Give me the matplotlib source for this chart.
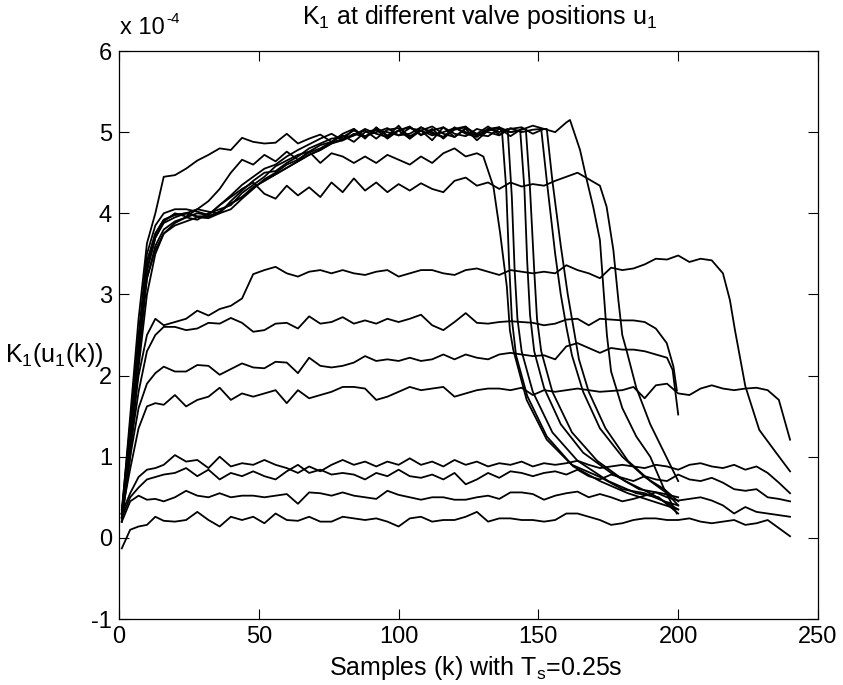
import matplotlib

matplotlib.use("Agg")
import matplotlib.pyplot as plt

plt.rcParams.update({
    "font.family": "Liberation Sans",
    "font.size": 17,
    "axes.unicode_minus": False,
    "mathtext.fontset": "custom",
    "mathtext.rm": "Liberation Sans",
    "mathtext.it": "Liberation Sans:italic",
})

# common sample grid for the slowly varying parts of every run
G = [1, 4, 7, 10, 13, 16, 20, 24, 28, 32, 36, 40, 44, 48, 52, 56, 60, 64, 68,
     72, 76, 80, 84, 88, 92, 96, 100, 104, 108, 112, 116, 120, 124, 128, 132,
     136, 140, 144, 148, 152, 156, 160, 164, 168, 172, 176, 180, 184, 188, 192,
     196, 200, 204, 208, 212, 216, 220, 224, 228, 232, 236, 240]

# ---- low valve positions (run to k=240) ----
L0 = [-0.13, 0.10, 0.14, 0.16, 0.26, 0.21, 0.20, 0.22, 0.32, 0.22, 0.14, 0.26,
      0.22, 0.26, 0.18, 0.30, 0.22, 0.21, 0.26, 0.20, 0.20, 0.26, 0.24, 0.22,
      0.24, 0.20, 0.14, 0.24, 0.26, 0.20, 0.22, 0.22, 0.26, 0.32, 0.20, 0.24,
      0.24, 0.22, 0.22, 0.20, 0.22, 0.30, 0.30, 0.26, 0.22, 0.16, 0.18, 0.22,
      0.24, 0.24, 0.22, 0.22, 0.24, 0.20, 0.18, 0.20, 0.22, 0.16, 0.18, 0.22,
      0.12, 0.02]
L1 = [0.20, 0.45, 0.52, 0.47, 0.48, 0.45, 0.50, 0.58, 0.52, 0.50, 0.55, 0.50,
      0.52, 0.52, 0.50, 0.52, 0.54, 0.42, 0.56, 0.55, 0.52, 0.56, 0.52, 0.50,
      0.48, 0.58, 0.53, 0.50, 0.47, 0.50, 0.50, 0.47, 0.47, 0.50, 0.52, 0.48,
      0.56, 0.56, 0.54, 0.47, 0.52, 0.55, 0.57, 0.50, 0.54, 0.50, 0.45, 0.48,
      0.52, 0.56, 0.50, 0.46, 0.48, 0.50, 0.46, 0.40, 0.30, 0.38, 0.32, 0.30,
      0.28, 0.26]
L2 = [0.25, 0.50, 0.62, 0.72, 0.75, 0.78, 0.80, 0.86, 0.76, 0.84, 0.72, 0.80,
      0.76, 0.82, 0.76, 0.72, 0.82, 0.90, 0.80, 0.84, 0.78, 0.80, 0.78, 0.72,
      0.80, 0.76, 0.84, 0.76, 0.74, 0.78, 0.72, 0.80, 0.66, 0.72, 0.80, 0.74,
      0.82, 0.80, 0.76, 0.80, 0.82, 0.78, 0.84, 0.76, 0.72, 0.78, 0.74, 0.70,
      0.76, 0.72, 0.70, 0.78, 0.72, 0.70, 0.74, 0.68, 0.60, 0.58, 0.60, 0.50,
      0.48, 0.45]
L3 = [0.30, 0.55, 0.75, 0.84, 0.86, 0.90, 1.02, 0.94, 0.96, 0.86, 1.00, 0.88,
      0.92, 0.90, 0.96, 0.90, 0.86, 0.80, 0.88, 0.82, 0.90, 0.96, 0.90, 0.94,
      0.88, 0.94, 0.90, 0.98, 0.90, 0.94, 0.88, 0.96, 0.90, 0.94, 0.88, 0.92,
      0.90, 0.94, 0.88, 0.92, 0.90, 0.92, 0.95, 0.90, 0.86, 0.88, 0.90, 0.88,
      0.86, 0.90, 0.88, 0.84, 0.90, 0.92, 0.88, 0.86, 0.90, 0.84, 0.88, 0.80,
      0.68, 0.55]
M1 = [0.30, 0.85, 1.35, 1.62, 1.66, 1.64, 1.76, 1.62, 1.70, 1.74, 1.85, 1.70,
      1.78, 1.74, 1.78, 1.82, 1.66, 1.82, 1.72, 1.76, 1.80, 1.86, 1.86, 1.84,
      1.70, 1.74, 1.80, 1.86, 1.82, 1.84, 1.86, 1.74, 1.78, 1.82, 1.84, 1.84,
      1.82, 1.85, 1.76, 1.82, 1.80, 1.82, 1.84, 1.82, 1.80, 1.81, 1.82, 1.86,
      1.72, 1.88, 1.90, 1.78, 1.76, 1.84, 1.88, 1.84, 1.82, 1.84, 1.85, 1.82,
      1.70, 1.21]

# ---- middle valve positions ----
M2 = [0.30, 1.00, 1.60, 1.90, 2.03, 2.11, 2.05, 2.05, 2.13, 2.12, 2.01, 2.08,
      2.15, 2.10, 2.09, 2.17, 2.16, 2.03, 2.22, 2.12, 2.10, 2.12, 2.16, 2.24,
      2.18, 2.20, 2.18, 2.22, 2.18, 2.20, 2.26, 2.20, 2.26, 2.22, 2.20, 2.26,
      2.28, 2.26, 2.24, 2.25, 2.20, 2.36, 2.40, 2.34, 2.28, 2.34, 2.32, 2.32,
      2.30, 2.26, 2.22]
M2_TK = [198, 200]
M2_TV = [2.07, 1.52]
M3 = [0.30, 1.10, 1.80, 2.30, 2.50, 2.60, 2.60, 2.56, 2.58, 2.65, 2.64, 2.71,
      2.65, 2.54, 2.56, 2.64, 2.65, 2.58, 2.73, 2.64, 2.66, 2.72, 2.64, 2.68,
      2.64, 2.70, 2.66, 2.70, 2.75, 2.62, 2.56, 2.66, 2.77, 2.65, 2.64, 2.66,
      2.67, 2.66, 2.65, 2.62, 2.64, 2.69, 2.70, 2.62, 2.70, 2.69, 2.68, 2.68,
      2.66, 2.58]
M3_TK = [195.9, 198.3, 199.5]
M3_TV = [2.40, 2.11, 1.82]
M4 = [0.30, 1.20, 2.00, 2.50, 2.70, 2.62, 2.66, 2.70, 2.80, 2.74, 2.82, 2.86,
      2.95, 3.25, 3.30, 3.34, 3.26, 3.22, 3.28, 3.30, 3.26, 3.30, 3.26, 3.24,
      3.28, 3.30, 3.22, 3.26, 3.30, 3.30, 3.26, 3.24, 3.30, 3.32, 3.28, 3.24,
      3.30, 3.28, 3.26, 3.28, 3.26, 3.36, 3.30, 3.26, 3.20, 3.33, 3.30, 3.32,
      3.37, 3.44, 3.43, 3.48, 3.40, 3.44, 3.42, 3.26]
M4_TK = [218.5, 220.3, 224, 229, 235, 240]
M4_TV = [2.93, 2.56, 1.87, 1.33, 1.05, 0.82]

# ---- high valve positions (saturate near 5e-4, then fall) ----
H1 = [0.35, 1.40, 2.40, 3.20, 3.55, 3.75, 3.88, 3.95, 4.00, 3.98, 4.10, 4.20,
      4.30, 4.38, 4.24, 4.18, 4.34, 4.22, 4.32, 4.20, 4.38, 4.26, 4.43, 4.28,
      4.38, 4.26, 4.36, 4.28, 4.37, 4.30, 4.26, 4.40, 4.44, 4.34, 4.38, 4.30,
      4.38, 4.33, 4.36, 4.34, 4.40, 4.45, 4.50, 4.42, 4.34]
H1_TK = [174.4, 176.8, 178.6, 180, 181.6, 185, 190, 195, 200]
H1_TV = [4.08, 3.55, 2.93, 2.50, 2.30, 1.85, 1.40, 1.05, 0.70]
H2 = [0.30, 1.35, 2.45, 3.30, 3.70, 3.88, 3.95, 4.00, 4.05, 4.15, 4.30, 4.50,
      4.66, 4.60, 4.72, 4.64, 4.76, 4.66, 4.76, 4.62, 4.74, 4.70, 4.62, 4.70,
      4.62, 4.72, 4.66, 4.60, 4.70, 4.62, 4.74, 4.80, 4.70, 4.74]
H2_TK = [130.3, 133.9, 136.3, 138.7, 139.8, 141, 145.8, 153, 162.5, 172, 182,
         191, 200]
H2_TV = [4.70, 4.33, 3.76, 3.10, 2.56, 2.32, 1.70, 1.21, 0.88, 0.70, 0.55,
         0.45, 0.35]
H3 = [0.30, 1.50, 2.70, 3.63, 4.00, 4.45, 4.47, 4.55, 4.65, 4.72, 4.80, 4.78,
      4.93, 4.88, 4.86, 4.87, 4.98, 4.86, 4.92, 4.97, 4.88, 4.98, 5.04, 4.94,
      5.05, 4.96, 5.02, 4.92, 5.06, 4.98, 4.94, 5.06, 4.98, 4.94, 5.04, 5.00]
H3_TK = [139, 140.5, 141.5, 142.5, 144, 148, 155, 164, 175, 185, 193, 200]
H3_TV = [5.04, 4.20, 3.30, 2.70, 2.30, 1.80, 1.30, 0.95, 0.70, 0.55, 0.50, 0.30]
C1 = [0.30, 1.30, 2.50, 3.50, 3.85, 4.00, 4.05, 4.05, 4.02, 3.98, 4.10, 4.22,
      4.35, 4.45, 4.55, 4.60, 4.70, 4.78, 4.85, 4.92, 4.98, 4.90, 5.04, 4.92,
      5.06, 4.95, 5.08, 4.92, 5.02, 4.90, 5.06, 4.94, 5.04, 4.90, 5.02, 5.06]
C1_TK = [137, 138.5, 139.5, 140.5, 142, 146, 153, 162, 172, 180, 188, 195, 200]
C1_TV = [5.00, 4.30, 3.40, 2.70, 2.25, 1.75, 1.25, 0.90, 0.75, 0.60, 0.55,
         0.45, 0.40]
C2 = [0.25, 1.20, 2.30, 3.30, 3.70, 3.90, 4.00, 3.96, 4.05, 4.02, 4.00, 4.15,
      4.28, 4.40, 4.50, 4.52, 4.62, 4.70, 4.80, 4.86, 4.92, 4.94, 5.02, 4.95,
      5.00, 5.05, 4.96, 4.98, 5.06, 5.00, 4.94, 5.03, 5.06, 4.97, 4.95, 5.04,
      5.00]
C2_TK = [143.5, 145, 146, 147, 148.5, 152, 158, 166, 176, 186, 194, 200]
C2_TV = [5.02, 4.30, 3.40, 2.75, 2.30, 1.85, 1.40, 1.05, 0.80, 0.60, 0.55, 0.50]
C3 = [0.20, 1.10, 2.20, 3.20, 3.60, 3.80, 3.90, 3.95, 3.92, 4.00, 4.05, 4.10,
      4.25, 4.35, 4.45, 4.58, 4.65, 4.72, 4.76, 4.84, 4.88, 4.96, 4.88, 5.00,
      5.03, 4.92, 5.02, 5.07, 4.96, 5.04, 4.92, 5.04, 5.07, 4.95, 5.02, 5.05,
      4.95, 5.04]
C3_TK = [145.5, 147, 148.5, 149.5, 151, 155, 162, 171, 181, 190, 200]
C3_TV = [5.04, 4.30, 3.30, 2.70, 2.30, 1.80, 1.30, 0.95, 0.70, 0.55, 0.35]
C4 = [0.20, 1.00, 2.10, 3.00, 3.50, 3.75, 3.85, 3.90, 3.95, 3.94, 4.00, 4.05,
      4.18, 4.30, 4.42, 4.50, 4.60, 4.66, 4.75, 4.80, 4.88, 4.90, 4.96, 5.04,
      4.98, 4.94, 5.02, 5.06, 4.97, 5.02, 5.06, 4.98, 4.95, 5.04, 5.00, 4.96,
      5.05, 5.00, 5.03]
C4_TK = [151, 153, 156, 158, 160, 162, 166, 172, 180, 188, 195, 200]
C4_TV = [5.04, 4.40, 3.50, 3.00, 2.60, 2.25, 1.80, 1.35, 1.00, 0.75, 0.60, 0.45]
C5 = [0.25, 1.25, 2.40, 3.40, 3.75, 3.92, 3.98, 4.00, 3.96, 3.96, 4.02, 4.12,
      4.20, 4.32, 4.40, 4.48, 4.56, 4.64, 4.72, 4.78, 4.86, 4.92, 4.96, 5.02,
      4.92, 5.03, 5.05, 4.95, 5.02, 5.07, 4.98, 4.94, 5.05, 4.98, 5.07, 4.97,
      5.04, 5.06, 4.98, 5.04]
C5_TK = [153, 155, 158, 160.5, 162.5, 164.5, 168, 174, 182, 190, 196, 200]
C5_TV = [5.04, 4.40, 3.60, 3.00, 2.60, 2.20, 1.80, 1.35, 0.95, 0.70, 0.55, 0.40]
H9 = [0.25, 1.25, 2.40, 3.40, 3.75, 3.92, 3.98, 4.00, 3.96, 3.96, 4.02, 4.12,
      4.20, 4.32, 4.40, 4.48, 4.56, 4.64, 4.72, 4.78, 4.86, 4.90, 4.98, 4.94,
      5.03, 5.00, 4.96, 5.05, 5.02, 4.96, 5.00, 5.05, 5.00, 4.96, 5.04, 5.06,
      5.00, 5.03, 5.08, 5.04, 5.00, 5.12]
H9_TK = [161.3, 164.9, 167.3, 169.6, 172, 173.2, 174.5, 176, 180, 185, 190,
         195, 199.5]
H9_TV = [5.15, 4.78, 4.41, 4.08, 3.67, 3.10, 2.50, 2.05, 1.60, 1.25, 1.00,
         0.60, 0.30]

RUNS = [
    (L0, [], []), (L1, [], []), (L2, [], []), (L3, [], []), (M1, [], []),
    (M2, M2_TK, M2_TV), (M3, M3_TK, M3_TV), (M4, M4_TK, M4_TV),
    (H1, H1_TK, H1_TV), (H2, H2_TK, H2_TV), (H3, H3_TK, H3_TV),
    (C1, C1_TK, C1_TV), (C2, C2_TK, C2_TV), (C3, C3_TK, C3_TV),
    (C4, C4_TK, C4_TV), (C5, C5_TK, C5_TV), (H9, H9_TK, H9_TV),
]

W, H = 843, 685
fig = plt.figure(figsize=(W / 100, H / 100), dpi=100)
ax = fig.add_axes([119 / W, 1 - 619 / H, 699 / W, 568 / H])

for vals, tk, tv in RUNS:
    k = G[:len(vals)] + tk
    v = vals + tv
    ax.plot(k, v, color="black", lw=1.3)

ax.set_xlim(0, 250)
ax.set_ylim(-1, 6)
ax.set_xticks([0, 50, 100, 150, 200, 250])
ax.set_yticks(range(-1, 7))
ax.tick_params(direction="in", top=True, right=True, length=7, width=0.8,
               pad=5, labelsize=17)
for s in ax.spines.values():
    s.set_linewidth(0.9)

fig.text(480 / W, 1 - 17 / H,
         r"K$\mathregular{_1}$ at different valve positions u$\mathregular{_1}$",
         ha="center", va="center", fontsize=18)
fig.text(476 / W, 1 - 668 / H,
         r"Samples (k) with T$\mathregular{_s}$=0.25s",
         ha="center", va="center", fontsize=18)
fig.text(5 / W, 1 - 355 / H, r"K$\mathregular{_1}$(u$\mathregular{_1}$(k))",
         ha="left", va="center", fontsize=18)
# exponent marker, MATLAB style
fig.text(120 / W, 1 - 28 / H, "x 10", ha="left", va="center", fontsize=17)
fig.text(166 / W, 1 - 19 / H, "-4", ha="left", va="center", fontsize=11)

fig.savefig("out.png", dpi=100)
